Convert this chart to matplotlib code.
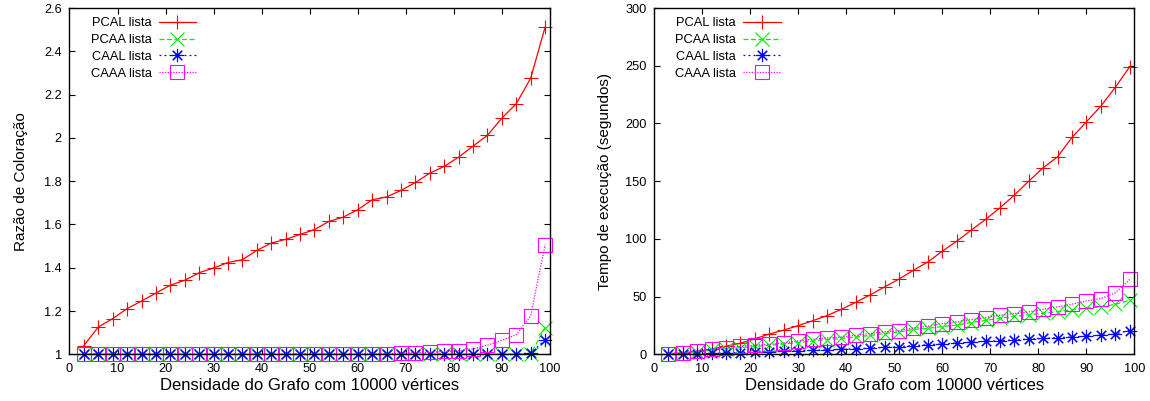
import numpy as np
from matplotlib import pyplot as plt

plt.rcParams['font.family'] = ['Liberation Sans', 'DejaVu Sans']

# densidade do grafo (%)
densidade = list(range(3, 100, 3))

# razao de coloracao
razao_pcal = [1.04, 1.126, 1.165, 1.211, 1.246, 1.283, 1.319, 1.342, 1.377, 1.399,
              1.424, 1.437, 1.480, 1.514, 1.531, 1.554, 1.576, 1.614, 1.634, 1.668,
              1.714, 1.727, 1.757, 1.794, 1.837, 1.868, 1.911, 1.962, 2.012, 2.091,
              2.158, 2.276, 2.512]
razao_pcaa = [1.0] * 31 + [1.002, 1.123]
razao_caal = [1.0] * 31 + [1.007, 1.065]
razao_caaa = [1.0] * 20 + [1.002, 1.003, 1.005, 1.008, 1.009, 1.013, 1.016, 1.025,
                           1.042, 1.065, 1.09, 1.178, 1.507]

# tempo de execucao (segundos)
tempo_pcal = [0.5, 1.2, 2.5, 4.5, 7.0, 9.5, 13.5, 17.5, 21.0, 24.8, 29.0, 33.5, 39.0,
              45.0, 51.5, 58.4, 65.2, 72.8, 80.0, 89.3, 98.0, 107.5, 116.8, 126.9,
              137.9, 150.0, 161.6, 171.1, 187.9, 201.4, 215.0, 231.2, 249.1]
tempo_pcaa = [0.5, 1.0, 2.2, 3.5, 4.8, 5.8, 6.8, 7.8, 8.8, 10.2, 11.5, 12.7, 13.7,
              15.0, 16.3, 18.0, 19.3, 21.5, 22.5, 24.0, 25.3, 27.5, 29.3, 31.2, 32.8,
              34.2, 35.6, 37.0, 38.5, 40.0, 41.2, 43.2, 46.8]
tempo_caal = [0.2, 0.4, 0.6, 0.9, 1.2, 1.5, 1.9, 2.2, 2.6, 3.0, 3.4, 3.8, 4.3, 4.8,
              5.3, 5.9, 6.6, 7.5, 8.3, 9.0, 9.7, 10.5, 11.2, 11.8, 12.4, 13.1, 13.7,
              14.4, 15.0, 15.7, 16.5, 17.8, 20.6]
tempo_caaa = [0.6, 1.2, 2.9, 4.3, 5.8, 6.9, 7.8, 8.7, 9.8, 11.5, 13.0, 14.1, 15.0,
              16.5, 17.9, 19.5, 20.5, 22.8, 24.3, 26.6, 28.0, 30.1, 31.8, 33.8, 35.3,
              36.7, 39.0, 41.0, 43.4, 46.2, 48.3, 53.2, 64.8]

nomes = ['PCAL lista', 'PCAA lista', 'CAAL lista', 'CAAA lista']
estilos = [
    dict(color='#ff0000', linestyle='-', marker='+'),
    dict(color='#00ee00', linestyle=(0, (4, 2)), marker='x'),
    dict(color='#0000ff', linestyle=(0, (1.5, 2.5)), marker=(8, 2, 0)),
    dict(color='#ff00ff', linestyle=(0, (1, 1.2)), marker='s', markerfacecolor='none'),
]


def grafico(ax, series, ymin, ymax, ystep, ylabel, ypad):
    for nome, ys, est in zip(nomes, series, estilos):
        ax.plot(densidade, ys, label=nome, linewidth=0.9, markersize=9.5,
                markeredgewidth=0.8, clip_on=False, **est)
    ax.set_xlim(0, 100)
    ax.set_ylim(ymin, ymax)
    ax.set_xticks(np.arange(0, 101, 10))
    yt = np.arange(ymin, ymax + ystep / 2, ystep)
    ax.set_yticks(yt)
    ax.set_yticklabels(['%g' % round(v, 1) for v in yt])
    ax.tick_params(direction='in', top=True, right=True, length=4, width=0.8,
                   labelsize=9.2)
    ax.tick_params(axis='x', pad=6)
    ax.tick_params(axis='y', pad=5.5)
    for s in ax.spines.values():
        s.set_linewidth(1.0)
    ax.set_xlabel('Densidade do Grafo com 10000 vértices', fontsize=12, labelpad=2.5)
    ax.set_ylabel(ylabel, fontsize=11, labelpad=ypad)
    ax.legend(loc='upper left', frameon=False, markerfirst=False, fontsize=9.3,
              handlelength=2.9, handletextpad=0.55, labelspacing=0.38,
              borderaxespad=0.3, bbox_to_anchor=(0.025, 1.0))


fig = plt.figure(figsize=(11.5, 4.01), dpi=100)
ax1 = fig.add_axes([0.0604, 0.1165, 0.4178, 0.8635])
ax2 = fig.add_axes([0.5687, 0.1165, 0.4178, 0.8635])

grafico(ax1, [razao_pcal, razao_pcaa, razao_caal, razao_caaa], 1.0, 2.6, 0.2,
        'Razão de Coloração', 11.5)
grafico(ax2, [tempo_pcal, tempo_pcaa, tempo_caal, tempo_caaa], 0, 300, 50,
        'Tempo de execução (segundos)', 9)

fig.savefig('out.png', dpi=100)
